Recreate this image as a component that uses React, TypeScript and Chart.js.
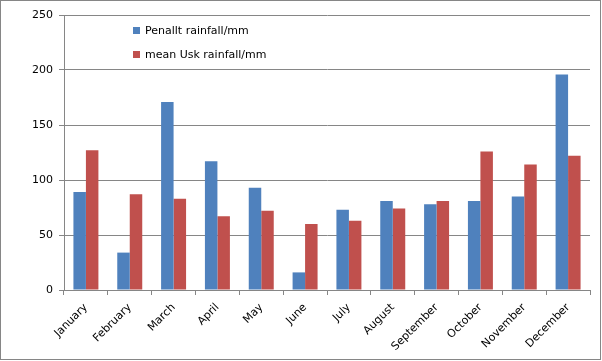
import React, { useEffect, useRef } from "react";
import { Chart, registerables } from "chart.js";

Chart.register(...registerables);

const months = [
  "January", "February", "March", "April", "May", "June",
  "July", "August", "September", "October", "November", "December",
];
const penallt = [89, 34, 171, 117, 93, 16, 73, 81, 78, 81, 85, 196];
const usk = [127, 87, 83, 67, 72, 60, 63, 74, 81, 126, 114, 122];
const seriesLabels = ["Penallt rainfall/mm", "mean Usk rainfall/mm"];
const seriesColors = ["#4F81BD", "#C0504D"];
const yMin = 0;
const yMax = 250;
const yStep = 50;

const FONT = "DejaVu Sans";
const GRID = "#868686";

const legendPlugin = {
  id: "insideLegend",
  afterDraw(chart: any) {
    const ctx = chart.ctx;
    ctx.save();
    chart.data.datasets.forEach((ds: any, i: number) => {
      const y = 31 + i * 24;
      ctx.fillStyle = ds.backgroundColor;
      ctx.fillRect(133, y - 4, 7, 7);
      ctx.fillStyle = "#000";
      ctx.font = `11px "${FONT}"`;
      ctx.textBaseline = "middle";
      ctx.textAlign = "left";
      ctx.fillText(ds.label, 145, y);
    });
    ctx.strokeStyle = GRID;
    ctx.lineWidth = 1;
    ctx.strokeRect(0.5, 0.5, 600, 359);
    ctx.restore();
  },
};

const bgPlugin = {
  id: "bg",
  beforeDraw(chart: any) {
    const ctx = chart.ctx;
    ctx.save();
    ctx.fillStyle = "#fff";
    ctx.fillRect(0, 0, chart.width, chart.height);
    ctx.restore();
  },
};

export default function App() {
  const ref = useRef<HTMLCanvasElement>(null);
  useEffect(() => {
    document.body.style.margin = "0";
    const chart = new Chart(ref.current!, {
      type: "bar",
      data: {
        labels: months,
        datasets: [
          { label: seriesLabels[0], data: penallt, backgroundColor: seriesColors[0], borderWidth: 0 },
          { label: seriesLabels[1], data: usk, backgroundColor: seriesColors[1], borderWidth: 0 },
        ],
      },
      plugins: [bgPlugin, legendPlugin],
      options: {
        responsive: false,
        animation: false,
        layout: { padding: { top: 15, right: 12, left: 0, bottom: 0 } },
        datasets: { bar: { categoryPercentage: 0.57, barPercentage: 1.0 } },
        plugins: { legend: { display: false }, tooltip: { enabled: false } },
        scales: {
          x: {
            grid: {
              drawOnChartArea: false,
              drawTicks: true,
              tickLength: 5,
              color: GRID,
              offset: true,
            },
            border: { color: GRID },
            ticks: {
              minRotation: 45,
              maxRotation: 45,
              color: "#000",
              font: { family: FONT, size: 11 },
              padding: 6,
              autoSkip: false,
            },
            afterFit(scale: any) {
              scale.height = 71;
            },
          },
          y: {
            min: yMin,
            max: yMax,
            ticks: {
              stepSize: yStep,
              color: "#000",
              font: { family: FONT, size: 11 },
              padding: 6,
            },
            grid: { color: GRID, tickLength: 5, drawTicks: true },
            border: { color: GRID },
            afterFit(scale: any) {
              scale.width = 64;
            },
          },
        },
      },
    });
    return () => chart.destroy();
  }, []);
  return <canvas ref={ref} width={602} height={361} style={{ display: "block" }} />;
}
